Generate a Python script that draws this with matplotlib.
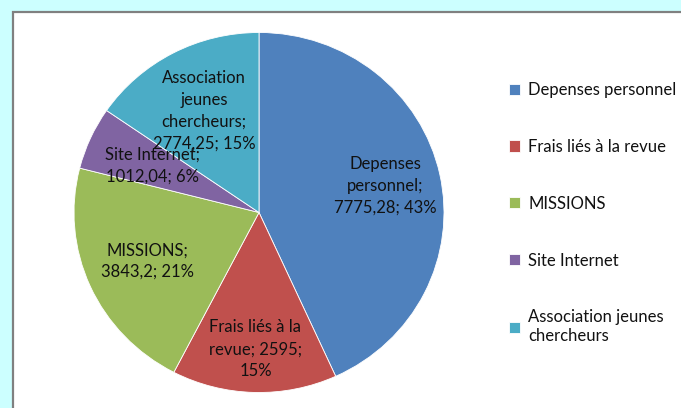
import matplotlib
matplotlib.use("Agg")
import matplotlib.pyplot as plt
from matplotlib.patches import Rectangle
import numpy as np

# data
categories = ["Depenses personnel", "Frais liés à la revue", "MISSIONS",
              "Site Internet", "Association jeunes chercheurs"]
values = [7775.28, 2595, 3843.2, 1012.04, 2774.25]
pie_labels = ["Depenses\npersonnel;\n7775,28; 43%",
              "Frais liés à la\nrevue; 2595;\n15%",
              "MISSIONS;\n3843,2; 21%",
              "Site Internet;\n1012,04; 6%",
              "Association\njeunes\nchercheurs;\n2774,25; 15%"]
legend_labels = ["Depenses personnel", "Frais liés à la revue", "MISSIONS",
                 "Site Internet", "Association jeunes\nchercheurs"]
colors = ["#4F81BD", "#C0504D", "#9BBB59", "#8064A2", "#4BACC6"]
label_dist = [0.70, 0.76, 0.66, 0.63, 0.64]

plt.rcParams['font.family'] = ['Lato', 'DejaVu Sans']

W, H = 681, 408
fig = plt.figure(figsize=(W / 100, H / 100), dpi=100)
fig.patch.set_facecolor("#CCFFFF")

# white chart area with grey border (runs off right/bottom edge)
fig.patches.append(Rectangle((13 / W, -0.1), 1.0, 1.1 - 12 / H,
                             transform=fig.transFigure, facecolor="white",
                             edgecolor="#808080", linewidth=1.6, zorder=-1))

# pie axes: slightly wider than tall, as in the original
cx, cy, rx, ry = 259, 212.5, 185, 180
ax = fig.add_axes([(cx - rx) / W, (H - cy - ry) / H, 2 * rx / W, 2 * ry / H])
ax.set_zorder(1)
wedges, texts = ax.pie(values, colors=colors, startangle=90, counterclock=False,
                       wedgeprops=dict(linewidth=0.6, edgecolor="white"))
ax.set_aspect("auto")
ax.set_xlim(-1, 1)
ax.set_ylim(-1, 1)
ax.axis("off")

for w, lab, d in zip(wedges, pie_labels, label_dist):
    ang = np.deg2rad((w.theta1 + w.theta2) / 2)
    ax.text(d * np.cos(ang), d * np.sin(ang), lab, ha="center", va="center",
            fontsize=12, color="#111111", linespacing=1.45)

leg = fig.legend(wedges, legend_labels, loc="upper left",
                 bbox_to_anchor=(494 / W, 1 - 67 / H), frameon=False,
                 fontsize=12, handlelength=0.65, handleheight=0.65,
                 handletextpad=0.5, labelspacing=2.45)
leg.set_zorder(2)
for t in leg.get_texts():
    t.set_color("#111111")

fig.savefig("out.png", dpi=100, facecolor=fig.get_facecolor())
